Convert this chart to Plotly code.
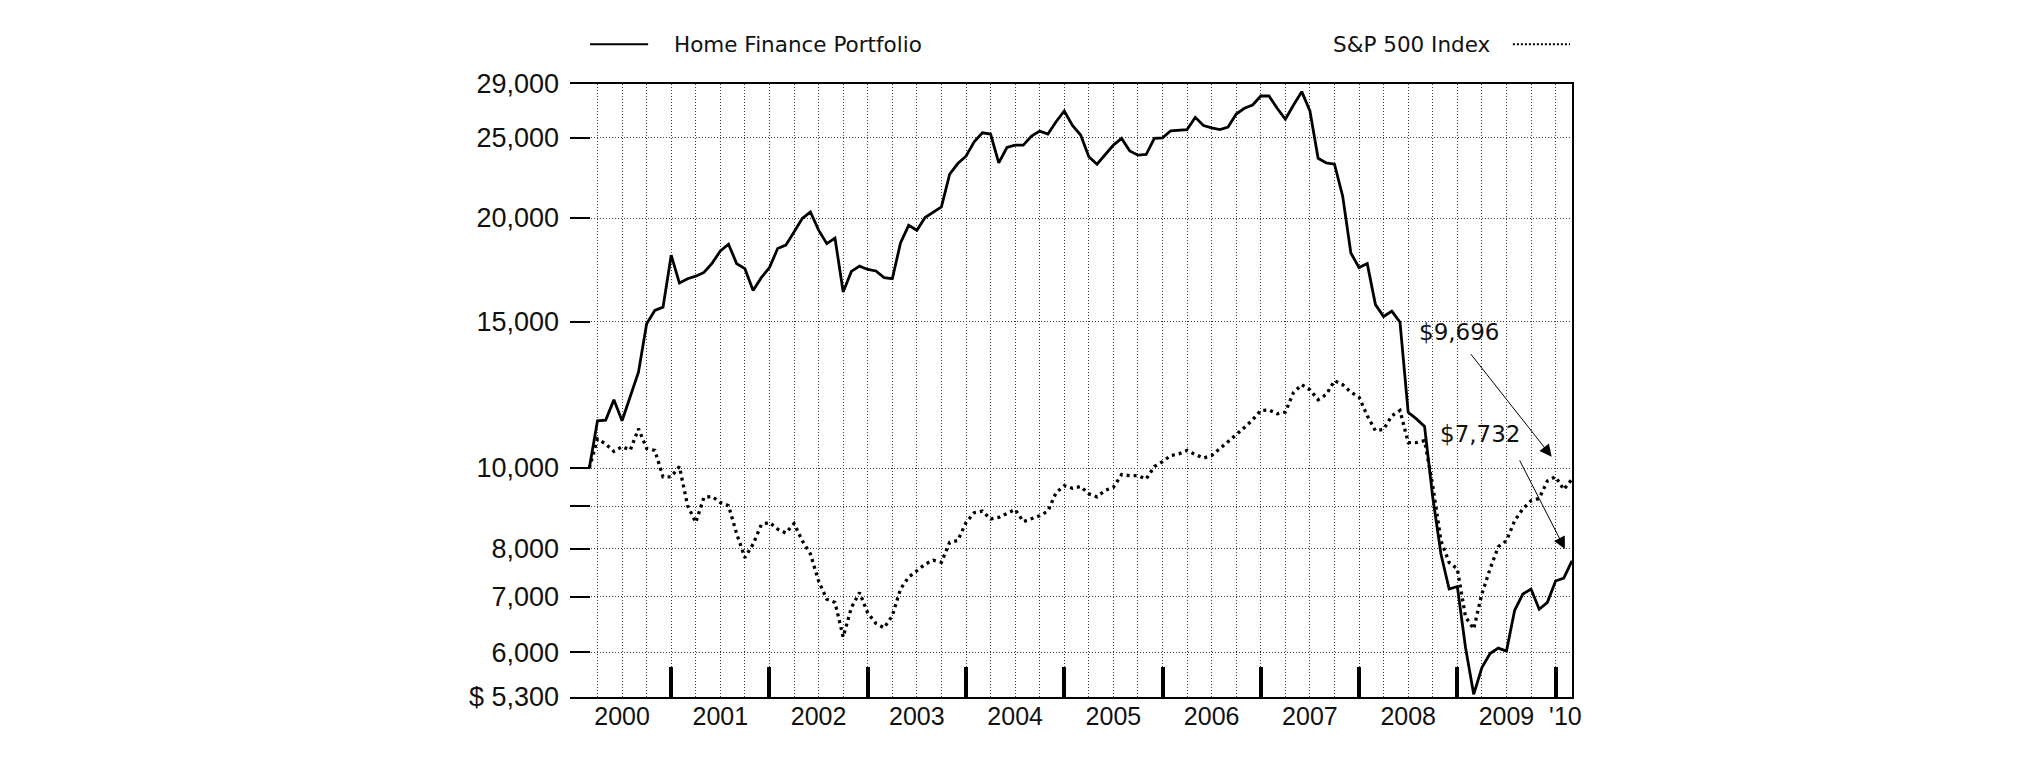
import math
import plotly.graph_objects as go

# ---------------- data (month-end values, Feb 2000 .. Feb 2010) ----------------
START_YEAR = 2000
START_MONTH = 2  # February month-end

portfolio = [
    10000, 11400, 11420, 12080, 11400, 12170, 13040, 14920, 15480, 15620,
    18040, 16700, 16900, 17020, 17200, 17650, 18250, 18600, 17620, 17380,
    16360, 16950, 17430, 18380, 18550, 19240, 19970, 20340, 19340, 18630,
    18920, 16290, 17250, 17500, 17340, 17270, 16950, 16900, 18660, 19600,
    19330, 20030, 20340, 20630, 22580, 23260, 23740, 24700, 25330, 25240,
    23300, 24320, 24480, 24480, 25100, 25450, 25240, 26120, 26910, 25850,
    25170, 23700, 23220, 23880, 24480, 24940, 24090, 23810, 23850, 24940,
    24980, 25470, 25500, 25560, 26440, 25850, 25680, 25560, 25740, 26680,
    27110, 27360, 28050, 28050, 27110, 26300, 27360, 28390, 26910, 23600,
    23300, 23220, 21250, 18150, 17430, 17625, 15730, 15220, 15450, 14980,
    11670, 11460, 11220, 9220, 7880, 7150, 7200, 6080, 5340, 5750,
    5980, 6070, 6020, 6740, 7050, 7150, 6760, 6890, 7310, 7370,
    7732,
]

sp500 = [
    10000, 10840, 10690, 10470, 10610, 10510, 11150, 10560, 10500, 9760,
    9760, 10040, 9010, 8600, 9220, 9240, 9090, 9010, 8330, 7800,
    8100, 8545, 8600, 8440, 8350, 8575, 8175, 7880, 7310, 6950,
    6890, 6260, 6790, 7080, 6690, 6500, 6420, 6640, 7150, 7390,
    7520, 7660, 7745, 7700, 8135, 8180, 8595, 8835, 8875, 8680,
    8720, 8810, 8915, 8620, 8680, 8760, 8875, 9340, 9520, 9455,
    9500, 9310, 9230, 9400, 9480, 9820, 9790, 9790, 9700, 10040,
    10180, 10350, 10400, 10500, 10380, 10280, 10350, 10545, 10740, 10970,
    11190, 11430, 11730, 11750, 11620, 11680, 12330, 12600, 12420, 12085,
    12265, 12740, 12600, 12340, 12170, 11560, 11090, 11130, 11560, 11730,
    10730, 10730, 10790, 9520, 8175, 7695, 7560, 6620, 6400, 7055,
    7560, 8040, 8175, 8640, 8930, 9130, 9190, 9650, 9760, 9420,
    9696,
]

series_names = ["Home Finance Portfolio", "S&P 500 Index"]
end_labels = ["$7,732", "$9,696"]

year_labels = ["2000", "2001", "2002", "2003", "2004", "2005", "2006",
               "2007", "2008", "2009", "'10"]
year_label_pos = [2000.5, 2001.5, 2002.5, 2003.5, 2004.5, 2005.5, 2006.5,
                  2007.5, 2008.5, 2009.5, 2010.1]
year_boundaries = [2001, 2002, 2003, 2004, 2005, 2006, 2007, 2008, 2009, 2010]
quarter_lines = [2000 + q / 4 for q in range(1, 41)]

y_tickvals = [5300, 6000, 7000, 8000, 9000, 10000, 15000, 20000, 25000, 29000]
y_ticktext = ["$ 5,300", "6,000", "7,000", "8,000", "", "10,000", "15,000",
              "20,000", "25,000", "29,000"]

months = [START_YEAR + (START_MONTH + i) / 12 for i in range(len(portfolio))]

X_RANGE = [1999.97, 2010.167]
Y_RANGE = [math.log10(5300), math.log10(29000)]

GRID_DASH = "1px,2px"
GRID_COLOR = "#3a3a3a"
FONT_Y = dict(family="Liberation Sans, Arial", size=27, color="#111")
FONT_X = dict(family="Liberation Sans, Arial", size=25, color="#111")
FONT_T = dict(family="DejaVu Sans", size=21.5, color="#111")
FONT_A = dict(family="DejaVu Sans", size=23, color="#111")

fig = go.Figure()

fig.add_trace(go.Scatter(
    x=months, y=sp500, mode="lines", name=series_names[1],
    line=dict(color="black", width=3.3, dash="3px,4px"),
))
fig.add_trace(go.Scatter(
    x=months, y=portfolio, mode="lines", name=series_names[0],
    line=dict(color="black", width=2.8),
))
# helper trace so the overlay axes (year ticks, right border) are drawn
fig.add_trace(go.Scatter(
    x=[months[0]], y=[portfolio[0]], xaxis="x2", yaxis="y2",
    mode="markers", marker=dict(opacity=0), hoverinfo="skip", showlegend=False,
))

fig.update_layout(
    width=2025, height=761,
    margin=dict(l=570, r=453, t=84, b=64),
    paper_bgcolor="white", plot_bgcolor="white",
    showlegend=False,
    xaxis=dict(
        range=X_RANGE, tickmode="array", tickvals=year_label_pos,
        ticktext=year_labels, ticks="", showgrid=False, zeroline=False,
        showline=True, mirror=True, linecolor="black", linewidth=1.5,
        tickfont=FONT_X, ticklabelstandoff=-4,
        minor=dict(tickvals=quarter_lines, showgrid=True, gridcolor=GRID_COLOR,
                   griddash=GRID_DASH, gridwidth=1, ticks=""),
    ),
    yaxis=dict(
        type="log", range=Y_RANGE, tickmode="array", tickvals=y_tickvals,
        ticktext=y_ticktext, ticks="inside", ticklen=20, tickwidth=1.5,
        tickcolor="black", showgrid=True, gridcolor=GRID_COLOR,
        griddash=GRID_DASH, gridwidth=1, showline=False, zeroline=False,
        tickfont=FONT_Y, ticklabelstandoff=10,
    ),
    xaxis2=dict(
        overlaying="x", anchor="y2", range=X_RANGE, tickmode="array",
        tickvals=year_boundaries, ticks="inside", ticklen=30, tickwidth=3.5,
        tickcolor="black", showticklabels=False, showgrid=False,
        showline=False, zeroline=False,
    ),
    yaxis2=dict(
        overlaying="y", anchor="x2", side="right", type="log", range=Y_RANGE,
        showline=True, linecolor="black", linewidth=1.5, showgrid=False,
        showticklabels=False, ticks="", zeroline=False,
    ),
)

# legend (drawn at top)
fig.add_shape(type="line", xref="paper", yref="paper", x0=0.02, x1=0.078,
              y0=1.065, y1=1.065, line=dict(color="black", width=2))
fig.add_annotation(xref="paper", yref="paper", x=0.1015, y=1.065,
                   xanchor="left", yanchor="middle", showarrow=False,
                   text=series_names[0], font=FONT_T)
fig.add_annotation(xref="paper", yref="paper", x=0.9215, y=1.065,
                   xanchor="right", yanchor="middle", showarrow=False,
                   text=series_names[1], font=FONT_T)
fig.add_shape(type="line", xref="paper", yref="paper", x0=0.941, x1=0.998,
              y0=1.065, y1=1.065, line=dict(color="black", width=2, dash="2px,2px"))

# end-value callouts
fig.add_annotation(x=2009.017, y=math.log10(14575), text=end_labels[1],
                   showarrow=False, font=FONT_A)
fig.add_annotation(x=2009.96, y=math.log10(10320), text="", showarrow=True,
                   ax=-82, ay=-104, arrowhead=2, arrowsize=2.4, arrowwidth=1,
                   arrowcolor="black")
fig.add_annotation(x=2009.23, y=math.log10(11000), text=end_labels[0],
                   showarrow=False, font=FONT_A)
fig.add_annotation(x=2010.095, y=math.log10(7990), text="", showarrow=True,
                   ax=-46, ay=-90, arrowhead=2, arrowsize=2.4, arrowwidth=1,
                   arrowcolor="black")

fig.write_html("out.html")
